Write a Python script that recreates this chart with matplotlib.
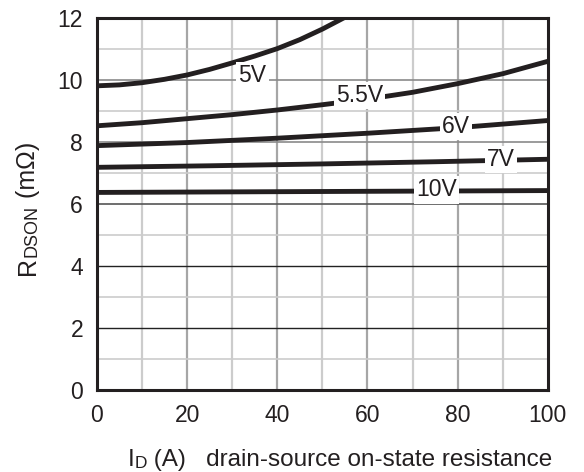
import numpy as np
import matplotlib
matplotlib.use("Agg")
import matplotlib.pyplot as plt

plt.rcParams["font.family"] = ["Liberation Sans", "DejaVu Sans"]

# curve data: drain current (A) vs RDS(on) (mOhm)
id_5v = [0, 5, 10, 15, 20, 25, 30, 35, 40, 45, 50, 55]
r_5v = [9.81, 9.84, 9.91, 10.02, 10.16, 10.34, 10.55, 10.77, 11.01, 11.30, 11.64, 12.02]

id_55v = [0, 10, 20, 30, 40, 50, 60, 70, 80, 90, 100]
r_55v = [8.52, 8.62, 8.75, 8.88, 9.03, 9.20, 9.38, 9.60, 9.88, 10.20, 10.60]

id_6v = [0, 20, 40, 60, 80, 100]
r_6v = [7.88, 7.98, 8.12, 8.28, 8.46, 8.69]

id_7v = [0, 25, 50, 75, 100]
r_7v = [7.18, 7.23, 7.29, 7.36, 7.44]

id_10v = [0, 50, 100]
r_10v = [6.37, 6.40, 6.43]

curve_labels = ["5V", "5.5V", "6V", "7V", "10V"]
label_x = [34.5, 58.3, 79.6, 89.6, 75.4]
label_y = [10.15, 9.5, 8.5, 7.42, 6.45]

xticks = [0, 20, 40, 60, 80, 100]
yticks = [0, 2, 4, 6, 8, 10, 12]

fig = plt.figure(figsize=(5.84, 4.72), dpi=100)
ax = fig.add_axes([0.166, 0.174, 0.772, 0.788])

# grid
for x in range(10, 100, 10):
    c = "#a6a6a6" if x % 20 == 0 else "#cccccc"
    ax.axvline(x, color=c, lw=1.6, zorder=1)
for y in range(1, 12):
    if y in (2, 4):
        c, lw = "#222222", 1.0
    elif y == 6:
        c, lw = "#555555", 1.2
    elif y % 2 == 0:
        c, lw = "#8a8a8a", 1.2
    else:
        c, lw = "#cccccc", 1.2
    ax.axhline(y, color=c, lw=lw, zorder=1)

for xs, ys in [(id_5v, r_5v), (id_55v, r_55v), (id_6v, r_6v), (id_7v, r_7v), (id_10v, r_10v)]:
    ax.plot(xs, ys, color="#231f20", lw=3.5, solid_capstyle="butt", zorder=3)

for t, x, y in zip(curve_labels, label_x, label_y):
    ax.text(x, y, t, fontsize=16.5, ha="center", va="center", color="#231f20", zorder=4,
            bbox=dict(facecolor="white", edgecolor="none", pad=1.5))

ax.set_xlim(0, 100)
ax.set_ylim(0, 12)
ax.set_xticks(xticks)
ax.set_yticks(yticks)
ax.tick_params(length=0, labelsize=16.5, pad=10, colors="#231f20")
for s in ax.spines.values():
    s.set_linewidth(2.2)
    s.set_color("#231f20")

# axis titles with small-caps subscripts
r = fig.text(0.048, 0.418, "R", fontsize=18, rotation=90, ha="center", va="bottom", color="#231f20")
sub = ax.annotate("DSON", xy=(1, 1), xycoords=r, fontsize=13, rotation=90,
                  ha="right", va="bottom", color="#231f20")
ax.annotate(" (m\u03a9)", xy=(1, 1), xycoords=sub, fontsize=18, rotation=90,
            ha="right", va="bottom", color="#231f20")

i = fig.text(0.219, 0.012, "I", fontsize=17.5, ha="left", va="baseline", color="#231f20")
d = ax.annotate("D", xy=(1, 0), xycoords=i, fontsize=12.5, ha="left", va="bottom", color="#231f20")
ax.annotate(" (A)   drain-source on-state resistance", xy=(1, 0), xycoords=d, fontsize=17.5,
            ha="left", va="bottom", color="#231f20")

fig.savefig("out.png", dpi=100)
